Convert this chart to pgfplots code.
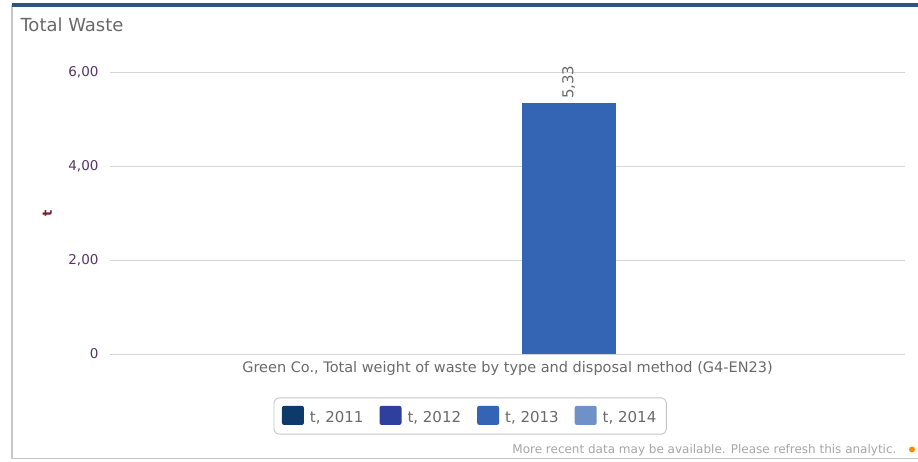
\documentclass[border=0pt]{standalone}
\usepackage{pgfplots}
\pgfplotsset{compat=1.18}
\usepackage{fontspec}
\setmainfont{DejaVu Sans}
\definecolor{cA}{HTML}{0D3A6A}
\definecolor{cB}{HTML}{2E3F9E}
\definecolor{cC}{HTML}{3465B5}
\definecolor{cD}{HTML}{7090C8}
\definecolor{tickc}{HTML}{5A3566}
\definecolor{ylab}{HTML}{7A1F2B}
\definecolor{txtg}{HTML}{6A6A6A}
\definecolor{topbar}{HTML}{2F5479}
\begin{document}
\begin{tikzpicture}
\useasboundingbox (0pt,0pt) rectangle (918pt,462pt);
\fill[white] (0pt,0pt) rectangle (918pt,462pt);
\draw[gray!45, line width=1.2pt] (12pt,3pt) -- (12pt,457pt);
\draw[gray!45, line width=1pt] (12pt,3pt) -- (918pt,3pt);
\fill[topbar] (12pt,455pt) rectangle (918pt,459pt);
\node[anchor=west, font=\fontsize{18}{21}\selectfont, text=txtg] at (17pt,437pt) {Total Waste};
\node[anchor=east, font=\fontsize{12}{14}\selectfont, text=gray!70] at (900pt,12pt) {More recent data may be available. Please refresh this analytic.};
\fill[orange!90!yellow] (912pt,12.5pt) circle (3pt);
\begin{axis}[
  at={(110pt,108pt)}, anchor=south west,
  scale only axis, width=795pt, height=282pt,
  xmin=-0.577, xmax=0.423,
  ymin=0, ymax=6,
  ytick={0,2,4,6},
  yticklabels={0,{2,00},{4,00},{6,00}},
  yticklabel style={text=tickc, font=\fontsize{13.5}{15}\selectfont, xshift=-8pt},
  xtick=\empty,
  axis line style={draw=none},
  major tick length=0pt,
  ymajorgrids,
  grid style={gray!33, line width=0.9pt},
  ylabel={t},
  ylabel style={at={(rel axis cs:-0.079,0.5)}, anchor=center,
    text=ylab, font=\bfseries\fontsize{13}{15}\selectfont},
  xlabel={Green Co., Total weight of waste by type and disposal method (G4-EN23)},
  xlabel style={at={(rel axis cs:0.5,0)}, anchor=north, yshift=-4pt,
    text=txtg, font=\fontsize{14.5}{16}\selectfont},
  legend columns=4,
  legend style={at={(rel axis cs:0.453,-0.22)}, anchor=center, draw=gray!45, rounded corners=5pt, line width=0.9pt,
    font=\fontsize{15}{17}\selectfont, text=txtg, inner xsep=8pt, inner ysep=8pt,
    /tikz/every odd column/.append style={column sep=4pt},
    /tikz/every even column/.append style={column sep=14pt}},
  legend image code/.code={\fill[#1, draw=none, rounded corners=2pt] (0pt,-7pt) rectangle (22pt,12pt);},
]
\addlegendimage{fill=cA}
\addlegendentry{t, 2011}
\addlegendimage{fill=cB}
\addlegendentry{t, 2012}
\addplot[ybar, bar width=0.1183, bar shift=0pt, fill=cC, draw=none,
  point meta=explicit symbolic,
  nodes near coords, every node near coord/.append style={rotate=90, anchor=west, text=txtg, font=\fontsize{15}{17}\selectfont, xshift=1pt}]
  coordinates {(0,5.33) [{5,33}]};
\addlegendentry{t, 2013}
\addlegendimage{fill=cD}
\addlegendentry{t, 2014}
\end{axis}
\end{tikzpicture}
\end{document}
